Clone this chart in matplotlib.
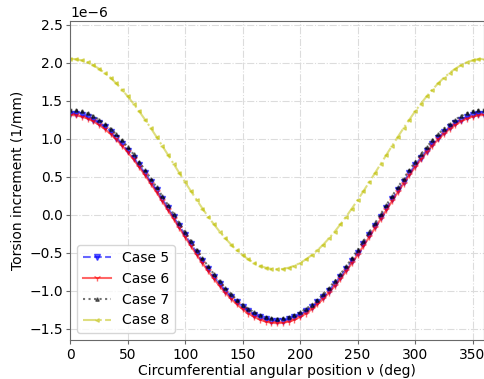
import numpy as np
import matplotlib
matplotlib.use('Agg')
import matplotlib.pyplot as plt

# angular positions (deg), every 5 deg
theta = list(range(0, 361, 5))

# torsion increment, in 1e-6 1/mm
case5 = [1.330, 1.325, 1.309, 1.283, 1.248, 1.202, 1.147, 1.083, 1.011, 0.930,
         0.842, 0.748, 0.648, 0.542, 0.432, 0.318, 0.202, 0.084, -0.035, -0.154,
         -0.272, -0.388, -0.502, -0.612, -0.718, -0.818, -0.912, -1.000, -1.081, -1.153,
         -1.217, -1.272, -1.318, -1.354, -1.379, -1.395, -1.400,
         -1.395, -1.379, -1.354, -1.318, -1.272, -1.217, -1.153, -1.081, -1.000, -0.912,
         -0.818, -0.718, -0.612, -0.502, -0.388, -0.272, -0.154, -0.035, 0.084, 0.202,
         0.318, 0.432, 0.542, 0.648, 0.748, 0.842, 0.930, 1.011, 1.083, 1.147,
         1.202, 1.248, 1.283, 1.309, 1.325, 1.330]
case6 = [1.310, 1.305, 1.289, 1.263, 1.227, 1.182, 1.126, 1.062, 0.989, 0.909,
         0.821, 0.726, 0.625, 0.519, 0.409, 0.295, 0.178, 0.059, -0.060, -0.179,
         -0.298, -0.415, -0.529, -0.639, -0.745, -0.846, -0.941, -1.029, -1.109, -1.182,
         -1.246, -1.302, -1.347, -1.383, -1.409, -1.425, -1.430,
         -1.425, -1.409, -1.383, -1.347, -1.302, -1.246, -1.182, -1.109, -1.029, -0.941,
         -0.846, -0.745, -0.639, -0.529, -0.415, -0.298, -0.179, -0.060, 0.059, 0.178,
         0.295, 0.409, 0.519, 0.625, 0.726, 0.821, 0.909, 0.989, 1.062, 1.126,
         1.182, 1.227, 1.263, 1.289, 1.305, 1.310]
case7 = [1.380, 1.375, 1.359, 1.333, 1.297, 1.251, 1.196, 1.131, 1.058, 0.977,
         0.889, 0.794, 0.693, 0.586, 0.475, 0.361, 0.244, 0.125, 0.005, -0.115,
         -0.234, -0.351, -0.465, -0.576, -0.683, -0.784, -0.879, -0.967, -1.048, -1.121,
         -1.186, -1.241, -1.287, -1.323, -1.349, -1.365, -1.370,
         -1.365, -1.349, -1.323, -1.287, -1.241, -1.186, -1.121, -1.048, -0.967, -0.879,
         -0.784, -0.683, -0.576, -0.465, -0.351, -0.234, -0.115, 0.005, 0.125, 0.244,
         0.361, 0.475, 0.586, 0.693, 0.794, 0.889, 0.977, 1.058, 1.131, 1.196,
         1.251, 1.297, 1.333, 1.359, 1.375, 1.380]
case8 = [2.050, 2.045, 2.029, 2.003, 1.966, 1.920, 1.864, 1.800, 1.726, 1.644,
         1.555, 1.459, 1.358, 1.250, 1.139, 1.023, 0.905, 0.786, 0.665, 0.544,
         0.425, 0.307, 0.191, 0.080, -0.028, -0.129, -0.225, -0.314, -0.396, -0.470,
         -0.534, -0.590, -0.636, -0.673, -0.699, -0.715, -0.720,
         -0.715, -0.699, -0.673, -0.636, -0.590, -0.534, -0.470, -0.396, -0.314, -0.225,
         -0.129, -0.028, 0.080, 0.191, 0.307, 0.425, 0.544, 0.665, 0.786, 0.905,
         1.023, 1.139, 1.250, 1.358, 1.459, 1.555, 1.644, 1.726, 1.800, 1.864,
         1.920, 1.966, 2.003, 2.029, 2.045, 2.050]

fig = plt.figure(figsize=(4.85, 3.79), dpi=100)
ax = fig.add_axes([0.145, 0.103, 0.853, 0.842])

sc = 1e-6
ax.plot(theta, np.array(case5) * sc, 'b--', marker='v', ms=4, alpha=0.6, label='Case 5')
ax.plot(theta, np.array(case6) * sc, 'r-', marker='1', ms=5, alpha=0.6, label='Case 6')
ax.plot(theta, np.array(case7) * sc, 'k:', marker='^', ms=2.5, alpha=0.55, label='Case 7')
ax.plot(theta, np.array(case8) * sc, 'y-.', marker='<', ms=2.5, alpha=0.5, label='Case 8')

ax.set_xlim(0, 360)
ax.set_ylim(-1.65e-6, 2.55e-6)
ax.set_xticks(range(0, 351, 50))
ax.set_yticks(np.arange(-1.5, 2.51, 0.5) * sc)
ax.tick_params(length=3, pad=2.5, color='dimgray')
ax.grid(True, linestyle='-.', color='#dcdcdc', linewidth=0.8)
ax.set_xlabel('Circumferential angular position ν (deg)', labelpad=2)
ax.set_ylabel('Torsion increment (1/mm)', labelpad=3)
ax.legend(loc='lower left')

for s in ax.spines.values():
    s.set_color('dimgray')

plt.savefig('out.png', dpi=100)
